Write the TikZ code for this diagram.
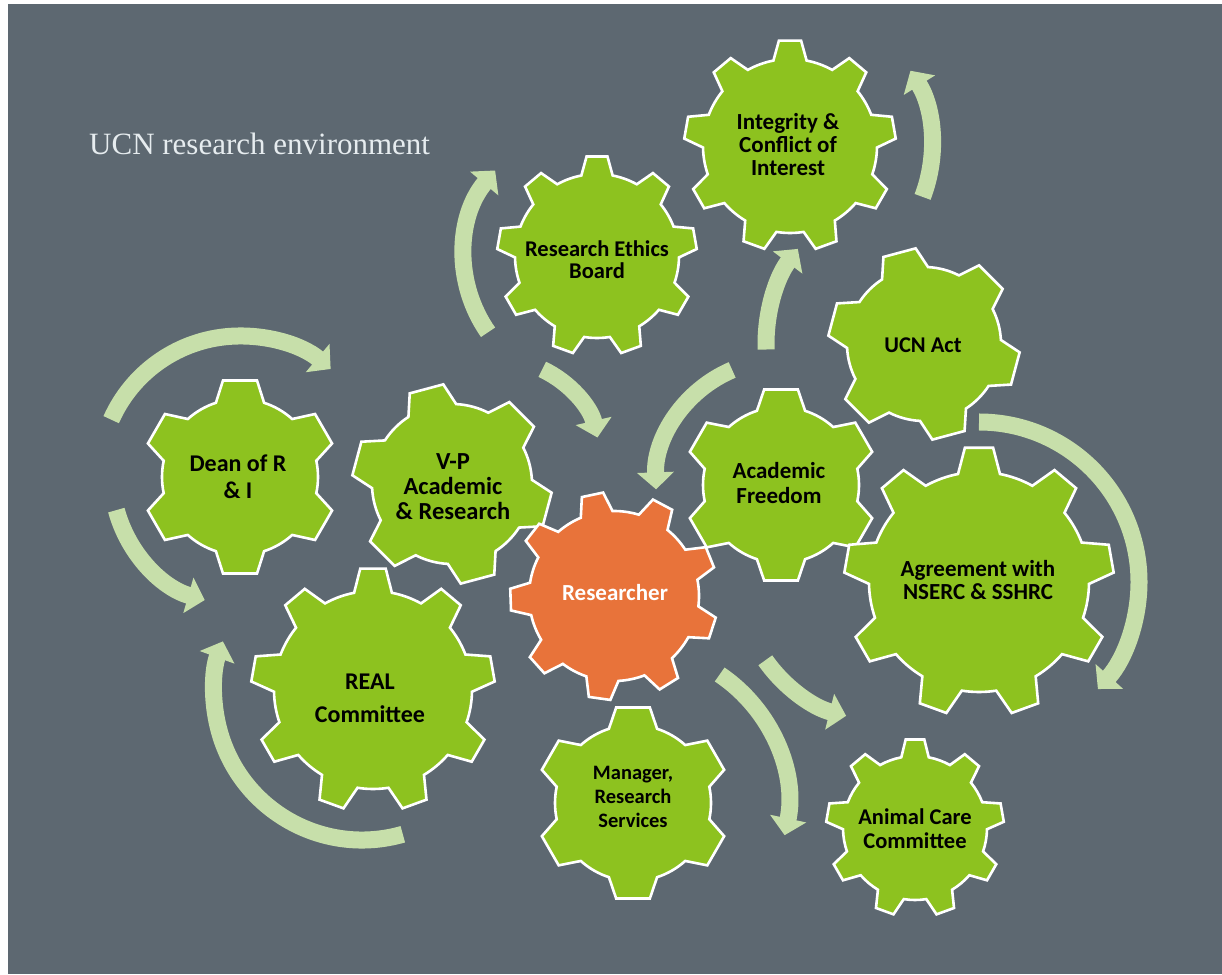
\documentclass[tikz,border=0pt]{standalone}
\usepackage{fontspec}
\setmainfont{Carlito}
\newfontfamily\titlefont{Liberation Serif}
\usetikzlibrary{arrows.meta}
\definecolor{bg}{HTML}{5D6871}
\definecolor{gearg}{HTML}{8DC21F}
\definecolor{gearo}{HTML}{E8733A}
\definecolor{arrowg}{HTML}{C7DFAA}
\definecolor{titlec}{HTML}{E6ECEF}
\newcommand{\gearshape}[8]{%
  \begin{scope}[shift={(#1)}]
    \pgfmathsetmacro\gstep{360/#2}
    \draw[gearline, fill=#8] (#5-#6:#3)
      \foreach \k in {1,...,#2}{
        -- ({#5+(\k-1)*\gstep-#7}:#4) -- ({#5+(\k-1)*\gstep+#7}:#4)
        -- ({#5+(\k-1)*\gstep+#6}:#3)
        arc[start angle={#5+(\k-1)*\gstep+#6}, end angle={#5+\k*\gstep-#6}, radius=#3]
      } -- cycle;
  \end{scope}}
\newcommand{\circarrow}[4]{%
  \draw[flow] ([shift={(#3:#2)}]#1) arc[start angle=#3, end angle=#4, radius=#2];}
\newcommand{\lsz}[2]{\fontsize{#1}{#2}\selectfont\bfseries}
\begin{document}
\begin{tikzpicture}[x=1pt,y=1pt,
  gearline/.style={draw=white, line width=2.6pt, line join=miter},
  flow/.style={draw=arrowg, line width=17pt, -{Triangle[width=36pt,length=17pt]}},
  lbl/.style={align=center, text=black, font=\lsz{23}{23}, inner sep=0pt},
  title/.style={text=titlec, font=\titlefont\fontsize{31}{34}\selectfont, inner sep=0pt}]
\useasboundingbox (0,0) rectangle (1222,974);
\fill[white] (0,0) rectangle (1222,974);
\fill[bg] (8,0) rectangle (1222,970);
% gear centres
\coordinate (gDean) at (240,497);
\coordinate (gVP) at (452,490);
\coordinate (gREB) at (597,718);
\coordinate (gInteg) at (790,828);
\coordinate (gUCN) at (924,630);
\coordinate (gAF) at (781,489);
\coordinate (gAgree) at (979,392);
\coordinate (gREAL) at (373,284);
\coordinate (gMan) at (633,171);
\coordinate (gAni) at (915,146);
\coordinate (gRes) at (614,378);
% arrow centres
\coordinate (cReal) at (362,282);
\coordinate (cEth) at (500,514);
\coordinate (cAni) at (880,394);
% arrows
\circarrow{gDean}{141}{156}{50}
\circarrow{gDean}{128}{195}{254}
\circarrow{cReal}{148}{-74}{-200}
\circarrow{gREB}{133}{215}{140}
\circarrow{cEth}{100}{65}{13}
\circarrow{gInteg}{142}{-21}{32}
\circarrow{gUCN}{158}{182}{143}
\circarrow{gAF}{125}{113}{182}
\circarrow{gAgree}{160}{90}{-42}
\circarrow{gMan}{155}{56}{-12}
\circarrow{cAni}{140}{215}{256}
% gears
\gearshape{gDean}{6}{78}{98}{90}{18}{10}{gearg}
\gearshape{gVP}{6}{80}{100}{45}{18}{10}{gearg}
\gearshape{gREB}{9}{82}{100}{90}{11}{6}{gearg}
\gearshape{gInteg}{9}{87}{106}{90}{11}{6}{gearg}
\gearshape{gUCN}{6}{77}{96}{45}{18}{10}{gearg}
\gearshape{gAF}{6}{78}{97}{90}{18}{10}{gearg}
\gearshape{gAgree}{9}{110}{135}{90}{11}{6}{gearg}
\gearshape{gREAL}{9}{99}{122}{90}{11}{6}{gearg}
\gearshape{gMan}{6}{78}{97}{90}{18}{10}{gearg}
\gearshape{gAni}{9}{72}{89}{90}{11}{6}{gearg}
\gearshape{gRes}{9}{85}{104}{102}{11}{6}{gearo}
% labels
\node[title, anchor=base west] (ttl) at (89,819) {UCN research environment};
\node[lbl, font=\lsz{24}{27}] (dean) at (238,497) {Dean of R\\\& I};
\node[lbl, font=\lsz{24.5}{25}] (vp) at (453,487) {V-P\\Academic\\\& Research};
\node[lbl, font=\lsz{22.5}{22}] (reb) at (597,714) {Research Ethics\\Board};
\node[lbl] (integ) at (788,829) {Integrity \&\\Conflict of\\Interest};
\node[lbl, font=\lsz{22.5}{23}] (ucn) at (923,629) {UCN Act};
\node[lbl, font=\lsz{23}{25}] (af) at (779,491) {Academic\\Freedom};
\node[lbl, text=white] (res) at (615,381) {Researcher};
\node[lbl] (agree) at (978,394) {Agreement with\\NSERC \& SSHRC};
\node[lbl, font=\lsz{24}{33}] (real) at (370,276) {REAL\\Committee};
\node[lbl, font=\lsz{20.5}{24}] (man) at (633,177) {Manager,\\Research\\Services};
\node[lbl, font=\lsz{22.5}{24}] (ani) at (915,145) {Animal Care\\Committee};
\end{tikzpicture}
\end{document}
